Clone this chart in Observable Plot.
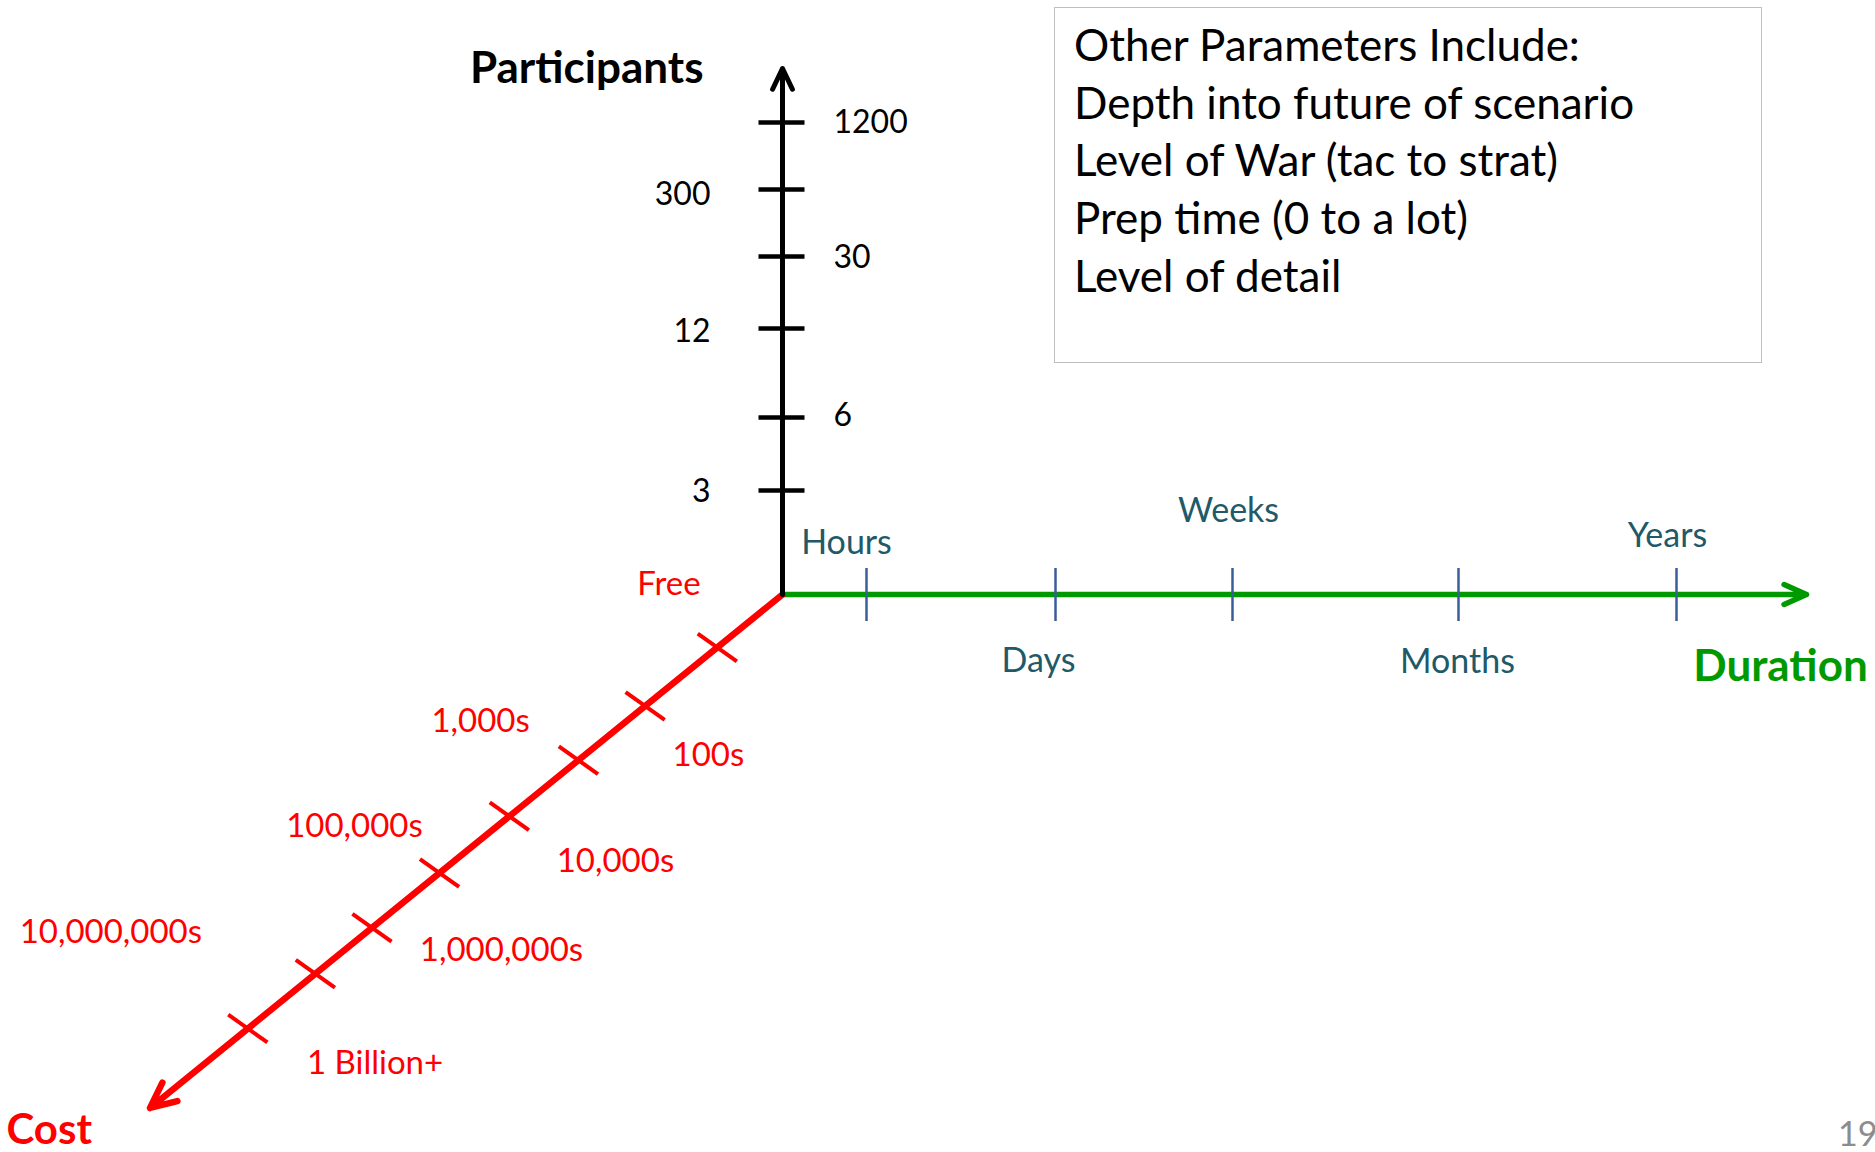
<!DOCTYPE html>
<html>
<head>
<meta charset="utf-8">
<script src="https://cdn.jsdelivr.net/npm/d3@7"></script>
<script src="https://cdn.jsdelivr.net/npm/@observablehq/plot@0.6"></script>
<style>
  html, body { margin: 0; padding: 0; background: #fff; overflow: hidden; width: 1875px; height: 1152px; }
  #wrap { position: relative; width: 1875px; height: 1152px; }
  #chart svg { display: block; }
  #box { position: absolute; left: 1054px; top: 7px; width: 708px; height: 356px; box-sizing: border-box;
         border: 1.5px solid #BFBFBF; padding: 8px 0 0 19px; font-family: Lato, sans-serif; font-size: 44px;
         line-height: 57.7px; color: #000; white-space: nowrap; }
  #page { position: absolute; left: 1838px; top: 1116px; font-family: Lato, sans-serif; font-size: 34px;
          line-height: 34px; color: #8C8C8C; white-space: nowrap; }
</style>
</head>
<body>
<div id="wrap">
  <div id="chart"></div>
  <div id="box"></div>
  <div id="page"></div>
</div>
<script>
// ---------------- data ----------------
const participants = ["3", "6", "12", "30", "300", "1200"];
const participantLevels = [1.04, 1.77, 2.66, 3.38, 4.05, 4.72];

const durations = ["Hours", "Days", "Weeks", "Months", "Years"];
const durationPositions = [0.84, 2.73, 4.50, 6.76, 8.94];

const costTickPositions = [0.84, 1.77, 2.63, 3.52, 4.42, 5.29, 6.02, 6.89];
const costLabels = ["Free", "100s", "1,000s", "10,000s", "100,000s", "1,000,000s", "10,000,000s", "1 Billion+"];
const costLabelAt = [0.573, 1.868, 2.763, 3.436, 4.256, 5.06, 6.638, 6.649];

const axisTitles = ["Participants", "Duration", "Cost"];
const otherParameters = [
  "Other Parameters Include:",
  "Depth into future of scenario",
  "Level of War (tac to strat)",
  "Prep time (0 to a lot)",
  "Level of detail"
];
const pageNumber = "19";

// ---------------- layout (world units, 1 unit = 100 px) ----------------
const layout = {
  width: 1875, height: 1152,
  xDomain: [-7.82, 10.93],
  yDomain: [-5.58, 5.94],
  participantsMax: 5.26,
  durationMax: 10.24,
  costMax: 8.15,
  costDir: [-0.776, -0.630],
  costPerp: [0.630, -0.776],
  costCross: [0.815, -0.579],
  costCrossHalf: 0.24,
  costLabelOffset: [-0.594, 0.556, -0.608, 0.648, -0.468, 0.476, -1.037, 0.641],
  costTitleAt: [9.075, -0.461],
  durationLabelShift: [-0.20, -0.17, -0.04, -0.01, -0.09],
  durationLabelLift: [0.51, -0.665, 0.83, -0.675, 0.585],
  durationTickHalf: 0.265,
  participantTick: [-0.24, 0.22],
  participantLabelShift: [-0.01, 0.02, -0.03, -0.01, -0.05, 0.0],
  participantLabelGap: [-0.72, 0.51],
  participantsTitle: [-0.79, 5.26],
  durationTitle: [9.98, -0.72]
};

const BLACK = "#000000", GREEN = "#009A00", RED = "#FF0000", TEAL = "#215968", BLUE = "#3A5E9A";
const FONT = "Lato";

const cx = (t, s) => t * layout.costDir[0] + s * layout.costPerp[0];
const cy = (t, s) => t * layout.costDir[1] + s * layout.costPerp[1];

const participantData = participants.map((label, i) => ({
  label, level: participantLevels[i], labelLevel: participantLevels[i] + layout.participantLabelShift[i],
  side: i % 2 === 0 ? "left" : "right"
}));
const durationData = durations.map((label, i) => ({
  label, pos: durationPositions[i], shift: layout.durationLabelShift[i], lift: layout.durationLabelLift[i]
}));
const costTickData = costTickPositions.map(t => ({t}));
const costLabelData = costLabels.map((label, i) => ({label, t: costLabelAt[i], s: layout.costLabelOffset[i]}));

const axesData = [
  {name: axisTitles[1], x2: layout.durationMax, y2: 0},
  {name: axisTitles[2], x2: cx(layout.costMax, 0), y2: cy(layout.costMax, 0)},
  {name: axisTitles[0], x2: 0, y2: layout.participantsMax}
];
const axisStyle = {
  Duration: {stroke: GREEN, strokeWidth: 5.5, headLength: 6.7, headAngle: 48},
  Cost: {stroke: RED, strokeWidth: 6.5, headLength: 6.5, headAngle: 50},
  Participants: {stroke: BLACK, strokeWidth: 5, headLength: 6.9, headAngle: 51}
};

const arrowMark = (d) => Plot.arrow([d], {
  x1: () => 0, y1: () => 0, x2: "x2", y2: "y2",
  stroke: axisStyle[d.name].stroke, strokeWidth: axisStyle[d.name].strokeWidth,
  headLength: axisStyle[d.name].headLength, headAngle: axisStyle[d.name].headAngle,
  strokeLinecap: "round", strokeLinejoin: "round"
});

const h = layout.costCrossHalf;
const chart = Plot.plot({
  width: layout.width,
  height: layout.height,
  margin: 0,
  x: {domain: layout.xDomain, range: [0, layout.width], axis: null},
  y: {domain: layout.yDomain, range: [layout.height, 0], axis: null},
  style: {background: "white", fontFamily: FONT},
  marks: [
    // Duration axis
    arrowMark(axesData[0]),
    Plot.link(durationData, {
      x1: "pos", x2: "pos",
      y1: () => -layout.durationTickHalf, y2: () => layout.durationTickHalf,
      stroke: BLUE, strokeWidth: 2.5
    }),
    Plot.text(durationData, {
      x: d => d.pos + d.shift, y: "lift", text: "label",
      fill: TEAL, fontSize: 34, fontFamily: FONT
    }),
    // Cost axis
    arrowMark(axesData[1]),
    Plot.link(costTickData, {
      x1: d => cx(d.t, 0) - h * layout.costCross[0], y1: d => cy(d.t, 0) - h * layout.costCross[1],
      x2: d => cx(d.t, 0) + h * layout.costCross[0], y2: d => cy(d.t, 0) + h * layout.costCross[1],
      stroke: RED, strokeWidth: 4
    }),
    Plot.text(costLabelData.filter(d => d.s < 0), {
      x: d => cx(d.t, d.s), y: d => cy(d.t, d.s), text: "label",
      textAnchor: "end", fill: RED, fontSize: 33, fontFamily: FONT
    }),
    Plot.text(costLabelData.filter(d => d.s >= 0), {
      x: d => cx(d.t, d.s), y: d => cy(d.t, d.s), text: "label",
      textAnchor: "start", fill: RED, fontSize: 33, fontFamily: FONT
    }),
    // Participants axis
    arrowMark(axesData[2]),
    Plot.link(participantData, {
      x1: () => layout.participantTick[0], x2: () => layout.participantTick[1],
      y1: "level", y2: "level",
      stroke: BLACK, strokeWidth: 4.5
    }),
    Plot.text(participantData.filter(d => d.side === "left"), {
      x: () => layout.participantLabelGap[0], y: "labelLevel", text: "label",
      textAnchor: "end", fill: BLACK, fontSize: 32, fontFamily: FONT
    }),
    Plot.text(participantData.filter(d => d.side === "right"), {
      x: () => layout.participantLabelGap[1], y: "labelLevel", text: "label",
      textAnchor: "start", fill: BLACK, fontSize: 32, fontFamily: FONT
    }),
    // Axis titles
    Plot.text([axisTitles[0]], {
      x: () => layout.participantsTitle[0], y: () => layout.participantsTitle[1], text: d => d,
      textAnchor: "end", fill: BLACK, fontSize: 44, fontWeight: "bold", fontFamily: FONT
    }),
    Plot.text([axisTitles[1]], {
      x: () => layout.durationTitle[0], y: () => layout.durationTitle[1], text: d => d,
      textAnchor: "middle", fill: GREEN, fontSize: 44, fontWeight: "bold", fontFamily: FONT
    }),
    Plot.text([axisTitles[2]], {
      x: () => cx(layout.costTitleAt[0], layout.costTitleAt[1]), y: () => cy(layout.costTitleAt[0], layout.costTitleAt[1]),
      text: d => d, textAnchor: "middle", fill: RED, fontSize: 42, fontWeight: "bold", fontFamily: FONT
    })
  ]
});
document.getElementById("chart").appendChild(chart);

const box = document.getElementById("box");
otherParameters.forEach(line => {
  const div = document.createElement("div");
  div.textContent = line;
  box.appendChild(div);
});
document.getElementById("page").textContent = pageNumber;
</script>
</body>
</html>
